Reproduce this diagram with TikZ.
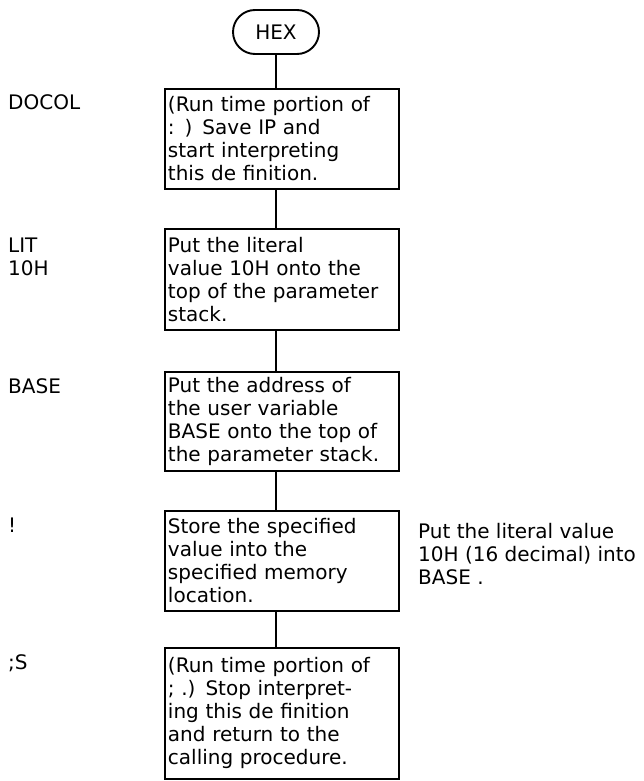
\documentclass[tikz,border=0pt]{standalone}
\usepackage{fontspec}
\setmainfont{DejaVu Sans}
\begin{document}
\begin{tikzpicture}[x=1pt,y=-1pt,
  txt/.style={font={\fontsize{20}{23}\selectfont}},
  stepbox/.style={draw,line width=1.9pt,txt,rectangle,anchor=north west,
    text width=228pt,inner sep=3pt,align=left,minimum height=#1},
  term/.style={draw,line width=1.9pt,txt,rounded corners=22pt,minimum width=86pt,minimum height=44pt,inner sep=0pt},
  lbl/.style={txt,anchor=base west,inner sep=0pt,align=left},
  conn/.style={line width=1.9pt}]
\useasboundingbox (0,0) rectangle (644,781);
\node[term] (hex) at (276,32) {HEX};
\node[stepbox=100pt] (b1) at (164,88) {(Run time portion of\\: ) Save IP and\\start interpreting\\this de finition.};
\node[stepbox=101pt] (b2) at (164,228) {Put the literal\\value 10H onto the\\top of the parameter\\stack.};
\node[stepbox=99pt] (b3) at (164,371) {Put the address of\\the user variable\\BASE onto the top of\\the parameter stack.};
\node[stepbox=100pt] (b4) at (164,510) {Store the specified\\value into the\\specified memory\\location.};
\node[stepbox=131pt] (b5) at (164,647) {(Run time portion of\\; .) Stop interpret-\\ing this de finition\\and return to the\\calling procedure.};
\node[lbl] (l1) at (8,110) {DOCOL};
\node[lbl] (l2) at (8,275) {LIT\\10H};
\node[lbl] (l3) at (8,393) {BASE};
\node[lbl] (l4) at (8,532) {!};
\node[lbl] (l5) at (8,669) {;S};
\node[lbl] (note) at (418,584) {Put the literal value\\10H (16 decimal) into\\BASE .};
\draw[conn] (hex.south) -- (hex.south |- b1.north);
\draw[conn] (b1.south -| hex.south) -- (b2.north -| hex.south);
\draw[conn] (b2.south -| hex.south) -- (b3.north -| hex.south);
\draw[conn] (b3.south -| hex.south) -- (b4.north -| hex.south);
\draw[conn] (b4.south -| hex.south) -- (b5.north -| hex.south);
\end{tikzpicture}
\end{document}
